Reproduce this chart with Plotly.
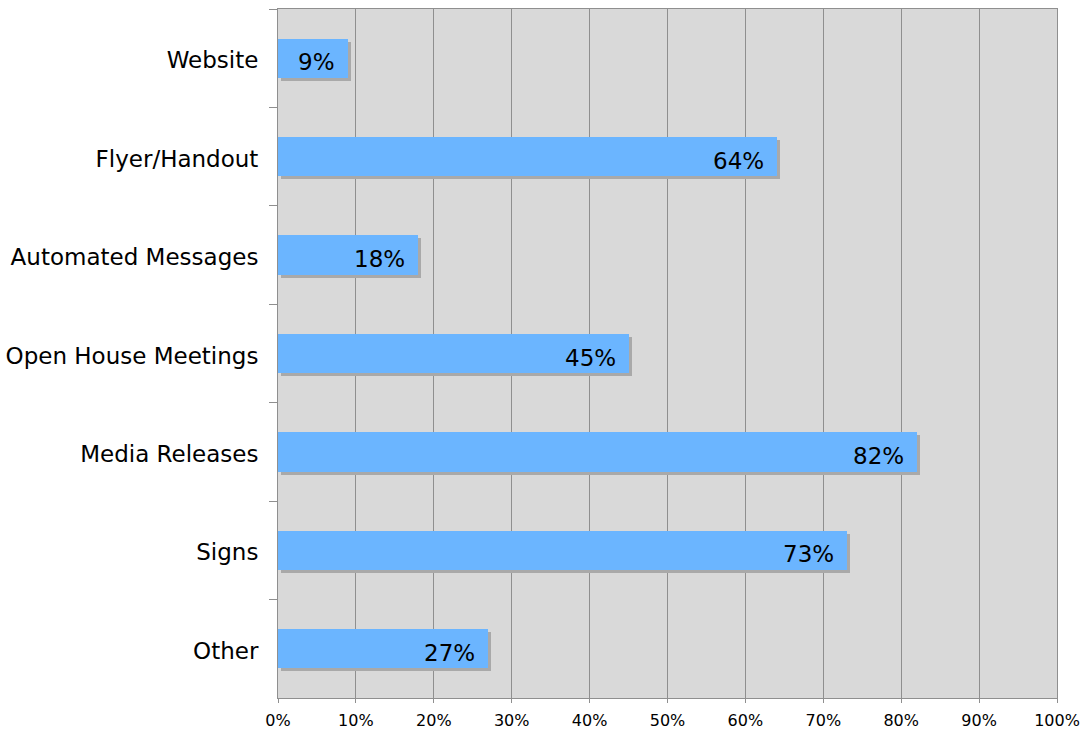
import plotly.graph_objects as go

# Survey results: share of respondents per outreach channel
channels = ["Website", "Flyer/Handout", "Automated Messages", "Open House Meetings",
            "Media Releases", "Signs", "Other"]
shares = [9, 64, 18, 45, 82, 73, 27]
tick_values = [0, 10, 20, 30, 40, 50, 60, 70, 80, 90, 100]
tick_labels = ["0%", "10%", "20%", "30%", "40%", "50%", "60%", "70%", "80%", "90%", "100%"]

W, H = 1083, 731
margin = dict(l=278, r=26, t=9, b=33)
plot_w = W - margin["l"] - margin["r"]
plot_h = H - margin["t"] - margin["b"]

bar_width = 0.4
shadow_px = 3
shadow_dx = shadow_px * 100 / plot_w            # in % units
shadow_dy = shadow_px * len(channels) / plot_h  # in category units

font_family = "DejaVu Sans, Verdana, sans-serif"

fig = go.Figure()

# drop shadow behind each bar
fig.add_trace(go.Bar(
    y=channels, x=shares, base=shadow_dx, orientation="h",
    width=bar_width, offset=-bar_width / 2 + shadow_dy,
    marker=dict(color="#a9a9a9", line=dict(width=0)),
    hoverinfo="skip", showlegend=False,
))

# main bars
fig.add_trace(go.Bar(
    y=channels, x=shares, orientation="h",
    width=bar_width, offset=-bar_width / 2,
    marker=dict(color="#6bb5ff", line=dict(width=0)),
    showlegend=False,
))

# value labels at the inner end of each bar
for ch, v in zip(channels, shares):
    fig.add_annotation(
        x=v, y=ch, text=f"{v}%", showarrow=False,
        xanchor="right", yanchor="middle", xshift=-11, yshift=-4,
        font=dict(family=font_family, size=23, color="#000000"),
    )

fig.update_layout(
    width=W, height=H, margin=margin,
    paper_bgcolor="#ffffff", plot_bgcolor="#d9d9d9",
    barmode="overlay", bargap=0,
    font=dict(family=font_family, color="#000000"),
)

fig.update_xaxes(
    range=[0, 100], tickvals=tick_values, ticktext=tick_labels,
    showgrid=True, gridcolor="#8f8f8f", gridwidth=1,
    ticks="outside", ticklen=4, tickcolor="#8f8f8f",
    showline=True, linecolor="#8f8f8f", linewidth=1, mirror=True,
    tickfont=dict(size=16), zeroline=False, fixedrange=True,
    automargin=False, ticklabelstandoff=4,
)

fig.update_yaxes(
    categoryorder="array", categoryarray=channels, autorange="reversed",
    tickson="boundaries", ticks="outside", ticklen=8, tickcolor="#8f8f8f",
    showgrid=False, showline=True, linecolor="#8f8f8f", linewidth=1, mirror=True,
    tickfont=dict(size=23), ticklabelstandoff=14, ticklabelshift=-2,
    fixedrange=True, automargin=False,
)

fig.write_html("out.html")
